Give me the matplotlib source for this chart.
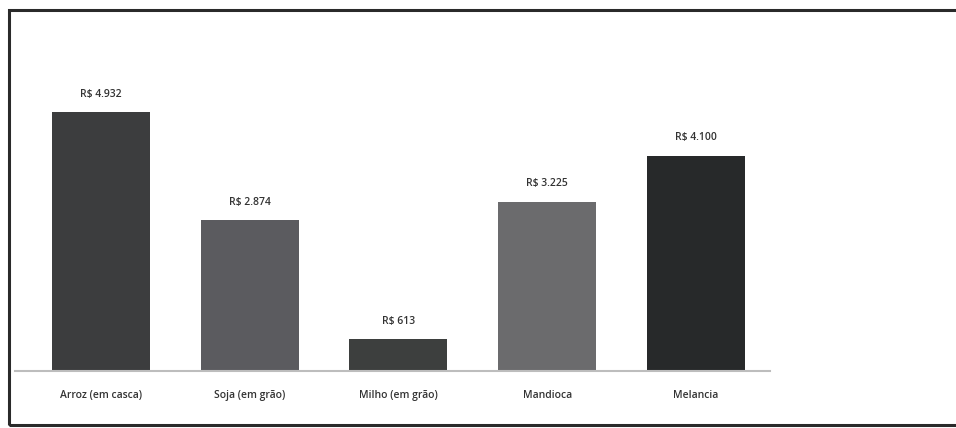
import matplotlib.pyplot as plt
from matplotlib.patches import Rectangle

categories = ["Arroz (em casca)", "Soja (em grão)", "Milho (em grão)",
              "Mandioca", "Melancia"]
values = [4932, 2874, 613, 3225, 4100]
value_labels = ["R$ 4.932", "R$ 2.874", "R$ 613", "R$ 3.225", "R$ 4.100"]
bar_colors = ["#3c3d3e", "#5b5b5f", "#3d3f3e", "#6b6b6d", "#27292a"]


def main():
    plt.rcParams["font.family"] = ["Open Sans", "DejaVu Sans"]
    fig = plt.figure(figsize=(9.56, 4.28), dpi=100)

    # outer frame of the scanned chart
    fig.patches.append(Rectangle((9 / 956, 3 / 428), 1.2, 415 / 428,
                                 transform=fig.transFigure, fill=False,
                                 edgecolor="#2a2a2a", linewidth=2.2))

    ax = fig.add_axes([15 / 956, 1 - 371 / 428, 755 / 956, 351 / 428])
    x = range(len(categories))
    bars = ax.bar(x, values, width=0.66, color=bar_colors)
    for bar, lab in zip(bars, value_labels):
        ax.text(bar.get_x() + bar.get_width() / 2, bar.get_height() + 230,
                lab, ha="center", va="bottom", fontsize=7.5,
                fontweight="semibold", color="#333333")

    ax.set_xlim(-0.58, 4.5)
    ax.set_ylim(0, 6680)
    ax.set_xticks(list(x))
    ax.set_xticklabels(categories, fontsize=7.5, fontweight="semibold",
                       color="#333333")
    ax.tick_params(axis="x", length=0, pad=14)
    ax.set_yticks([])
    for side in ["top", "right", "left"]:
        ax.spines[side].set_visible(False)
    ax.spines["bottom"].set_color("#bdbdbd")
    ax.spines["bottom"].set_linewidth(1.5)

    fig.savefig("out.png", dpi=100)


if __name__ == "__main__":
    main()
